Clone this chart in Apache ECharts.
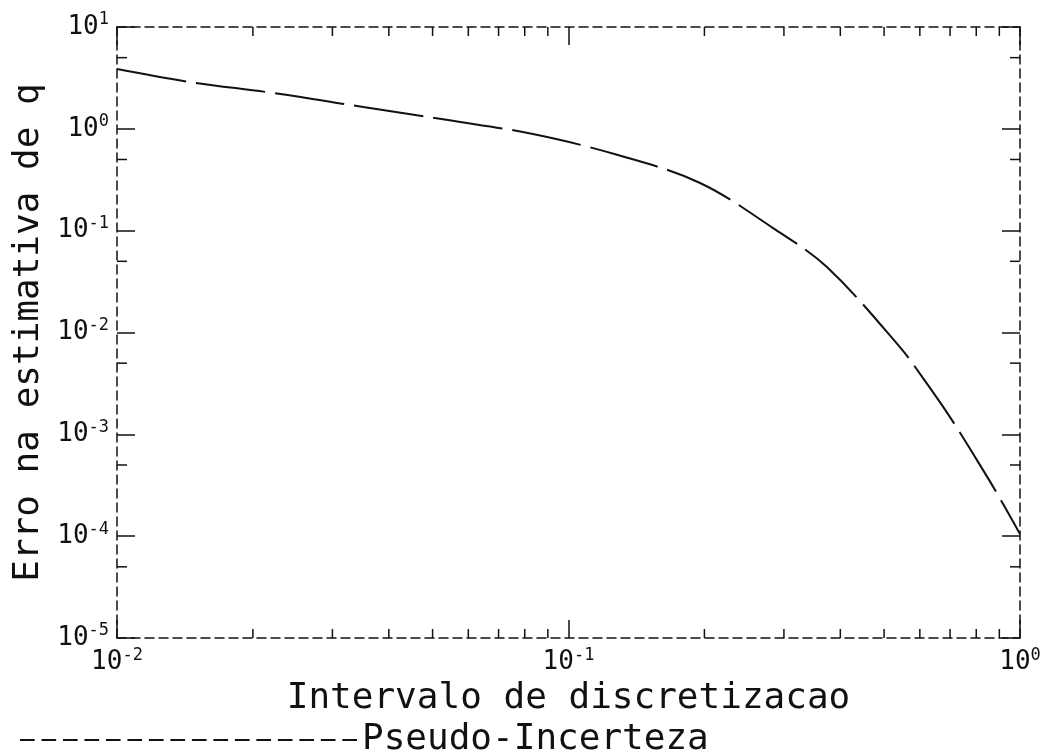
<!DOCTYPE html>
<html>
<head>
<meta charset="utf-8">
<script src="https://cdn.jsdelivr.net/npm/echarts@6/dist/echarts.min.js"></script>
<style>html,body{margin:0;padding:0;background:#fff;}#c{width:1050px;height:754px;}</style>
</head>
<body>
<div id="c"></div>
<script>
// Data (log-log)
const xValues = [0.01, 0.01452, 0.02215, 0.0351, 0.0541, 0.0834, 0.1287, 0.1956, 0.2838, 0.3736, 0.542, 0.6098, 0.6998, 0.8029, 0.889, 1.0];
const yValues = [3.87, 2.88, 2.25, 1.64, 1.22, 0.889, 0.553, 0.294, 0.1061, 0.0439, 0.00719, 0.00356, 0.001476, 5.58e-4, 2.64e-4, 1.05e-4];
const seriesName = 'Pseudo-Incerteza';
const xTitle = 'Intervalo de discretizacao';
const yTitle = 'Erro na estimativa de q';
const xMin = 0.01, xMax = 1;
const yMin = 1e-5, yMax = 10;
const xMinorTicks = [0.02,0.03,0.04,0.05,0.06,0.07,0.08,0.09,0.2,0.3,0.4,0.5,0.6,0.7,0.8,0.9];
const yMinorTicks = [5e-5, 5e-4, 5e-3, 5e-2, 5e-1, 5];

const FONT = '"DejaVu Sans Mono", "Liberation Mono", monospace';
const INK = '#111';

function expLabel(v) {
  const e = Math.round(Math.log10(v));
  return '{b|10}{s|' + e + '}';
}
const richLab = {
  b: {fontFamily: FONT, fontSize: 26, color: INK},
  s: {fontFamily: FONT, fontSize: 17, color: INK, verticalAlign: 'top', padding: [0,0,14,0]}
};
const frameLine = {show: true, lineStyle: {color: INK, width: 1.5, type: [9, 5]}};

// dashed legend icon (path of short bars)
let legendPath = 'path://';
for (let i = 0; i < 340; i += 22) {
  legendPath += 'M' + i + ',0 h15 v2 h-15 Z ';
}

const chart = echarts.init(document.getElementById('c'));
const option = {
  backgroundColor: '#fff',
  animation: false,
  grid: {left: 117, right: 30, top: 27, bottom: 116, containLabel: false, outerBoundsMode: 'none'},
  legend: {
    left: 15, top: 717,
    itemWidth: 337, itemHeight: 2, itemGap: 11,
    symbolKeepAspect: false,
    textStyle: {fontFamily: FONT, fontSize: 36, color: INK},
    data: [{name: seriesName, icon: legendPath, itemStyle: {color: INK, borderWidth: 0}}]
  },
  xAxis: [{
    type: 'log', logBase: 10, min: xMin, max: xMax, position: 'bottom',
    axisLine: frameLine,
    axisTick: {show: true, inside: true, length: 18, lineStyle: {color: INK, width: 1.5}},
    splitLine: {show: false},
    axisLabel: {margin: 9, formatter: expLabel, rich: richLab},
    name: xTitle, nameLocation: 'middle', nameGap: 24,
    nameTextStyle: {fontFamily: FONT, fontSize: 36, color: INK}
  }, {
    type: 'log', logBase: 10, min: xMin, max: xMax, position: 'top',
    axisLine: frameLine,
    axisTick: {show: true, inside: true, length: 18, lineStyle: {color: INK, width: 1.5}},
    splitLine: {show: false}, axisLabel: {show: false}
  }],
  yAxis: [{
    type: 'log', logBase: 10, min: yMin, max: yMax, position: 'left',
    axisLine: frameLine,
    axisTick: {show: true, inside: true, length: 18, lineStyle: {color: INK, width: 1.5}},
    splitLine: {show: false},
    axisLabel: {margin: 8, formatter: expLabel, rich: richLab},
    name: yTitle, nameLocation: 'middle', nameGap: 68, nameRotate: 90,
    nameTextStyle: {fontFamily: FONT, fontSize: 36, color: INK}
  }, {
    type: 'log', logBase: 10, min: yMin, max: yMax, position: 'right',
    axisLine: frameLine,
    axisTick: {show: true, inside: true, length: 18, lineStyle: {color: INK, width: 1.5}},
    splitLine: {show: false}, axisLabel: {show: false}
  }],
  series: [{
    name: seriesName,
    type: 'line',
    xAxisIndex: 0, yAxisIndex: 0,
    data: xValues.map((x, i) => [x, yValues[i]]),
    smooth: 0.35,
    showSymbol: false,
    symbol: 'none',
    lineStyle: {color: INK, width: 2, type: [70, 10]},
    itemStyle: {color: INK}
  }, {
    type: 'custom', name: 'xminor', xAxisIndex: 0, yAxisIndex: 0,
    silent: true,
    data: xMinorTicks.map(v => [v]),
    renderItem: function (params, api) {
      const v = api.value(0);
      const pb = api.coord([v, yMin]);
      const pt = api.coord([v, yMax]);
      const st = {stroke: INK, lineWidth: 1.5};
      return {type: 'group', children: [
        {type: 'line', shape: {x1: pb[0], y1: pb[1], x2: pb[0], y2: pb[1] - 9}, style: st},
        {type: 'line', shape: {x1: pt[0], y1: pt[1], x2: pt[0], y2: pt[1] + 9}, style: st}
      ]};
    }
  }, {
    type: 'custom', name: 'yminor', xAxisIndex: 0, yAxisIndex: 0,
    silent: true,
    data: yMinorTicks.map(v => [xMin, v]),
    encode: {x: 0, y: 1},
    renderItem: function (params, api) {
      const v = api.value(1);
      const pl = api.coord([xMin, v]);
      const pr = api.coord([xMax, v]);
      const st = {stroke: INK, lineWidth: 1.5};
      return {type: 'group', children: [
        {type: 'line', shape: {x1: pl[0], y1: pl[1], x2: pl[0] + 10, y2: pl[1]}, style: st},
        {type: 'line', shape: {x1: pr[0], y1: pr[1], x2: pr[0] - 10, y2: pr[1]}, style: st}
      ]};
    }
  }]
};
chart.setOption(option);
</script>
</body>
</html>
